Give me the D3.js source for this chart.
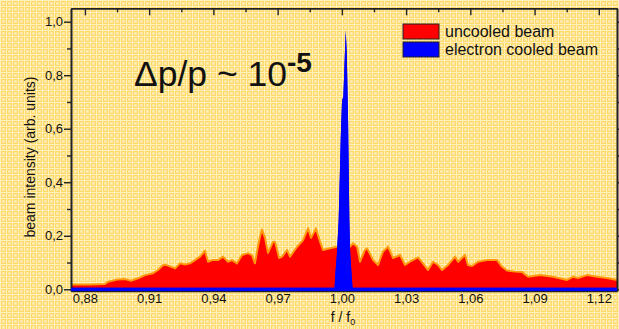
<!DOCTYPE html>
<html>
<head>
<meta charset="utf-8">
<script src="https://cdn.jsdelivr.net/npm/d3@7/dist/d3.min.js"></script>
<style>
  html, body { margin: 0; padding: 0; background: #ffdf80; }
  svg { display: block; font-family: 'Liberation Sans', Arial, sans-serif; }
</style>
</head>
<body>
<div id="chart"></div>
<script>
// frequency ratio f/f0 and intensity of the uncooled beam
const uncooledF = [0.8735, 0.8824, 0.8894, 0.8908, 0.8955, 0.8987, 0.9015, 0.9048, 0.9081, 0.9118,
  0.9141, 0.9165, 0.9179, 0.9221, 0.9244, 0.9267, 0.9291, 0.9314, 0.9338, 0.9361,
  0.9375, 0.9394, 0.9422, 0.9445, 0.9468, 0.9487, 0.9510, 0.9534, 0.9562, 0.9580,
  0.9594, 0.9608, 0.9618, 0.9627, 0.9641, 0.9655, 0.9679, 0.9688, 0.9707, 0.9721,
  0.9744, 0.9758, 0.9791, 0.9819, 0.9842, 0.9856, 0.9879, 0.9898, 0.9912, 0.9945,
  0.9977, 1.0005, 1.0038, 1.0052, 1.0071, 1.0085, 1.0108, 1.0118, 1.0146, 1.0169,
  1.0192, 1.0216, 1.0239, 1.0272, 1.0295, 1.0318, 1.0356, 1.0379, 1.0402, 1.0426,
  1.0449, 1.0468, 1.0496, 1.0529, 1.0543, 1.0575, 1.0589, 1.0608, 1.0636, 1.0678,
  1.0725, 1.0748, 1.0771, 1.0809, 1.0841, 1.0870, 1.0926, 1.0986, 1.1052, 1.1080,
  1.1103, 1.1145, 1.1192, 1.1239, 1.1285];
const uncooledI = [0.018, 0.018, 0.020, 0.028, 0.037, 0.038, 0.032, 0.041, 0.053, 0.060,
  0.072, 0.091, 0.091, 0.078, 0.097, 0.093, 0.097, 0.109, 0.122, 0.144,
  0.103, 0.109, 0.109, 0.122, 0.103, 0.109, 0.097, 0.128, 0.135, 0.128,
  0.097, 0.159, 0.197, 0.223, 0.192, 0.136, 0.178, 0.178, 0.117, 0.122,
  0.147, 0.122, 0.159, 0.184, 0.228, 0.192, 0.227, 0.178, 0.147, 0.153,
  0.159, 0.166, 0.159, 0.172, 0.159, 0.103, 0.147, 0.153, 0.109, 0.091,
  0.141, 0.159, 0.117, 0.128, 0.091, 0.103, 0.119, 0.097, 0.072, 0.103,
  0.091, 0.072, 0.091, 0.122, 0.103, 0.128, 0.091, 0.087, 0.103, 0.109,
  0.109, 0.084, 0.070, 0.066, 0.065, 0.047, 0.053, 0.047, 0.035, 0.047,
  0.042, 0.053, 0.047, 0.042, 0.035];

// electron cooled beam
const cooledF = [0.8735, 0.9966, 0.9969, 0.9977, 0.9985, 0.9995, 1.0001, 1.0007, 1.0018,
  1.0023, 1.0029, 1.0035, 1.0039, 1.0046, 1.0050, 1.1285];
const cooledI = [0.006, 0.006, 0.050, 0.133, 0.257, 0.568, 0.705, 0.720, 0.966,
  0.880, 0.630, 0.257, 0.133, 0.047, 0.006, 0.006];

const xTicks = [0.88, 0.91, 0.94, 0.97, 1.00, 1.03, 1.06, 1.09, 1.12];
const yTicks = [0.0, 0.2, 0.4, 0.6, 0.8, 1.0];
const legendLabels = ['uncooled beam', 'electron cooled beam'];
const seriesColors = ['#ff0000', '#0000ff'];

const W = 619, H = 329;
const svg = d3.select('#chart').append('svg').attr('width', W).attr('height', H);

// checkered yellow paper background
const defs = svg.append('defs');
const pat = defs.append('pattern').attr('id', 'paper')
  .attr('patternUnits', 'userSpaceOnUse').attr('width', 6).attr('height', 6);
pat.append('rect').attr('width', 6).attr('height', 6).attr('fill', '#ffd96a');
pat.append('rect').attr('x', 0).attr('y', 0).attr('width', 6).attr('height', 1).attr('fill', '#fff0bc');
pat.append('rect').attr('x', 0).attr('y', 0).attr('width', 1).attr('height', 6).attr('fill', '#fff0bc');
pat.append('rect').attr('x', 2).attr('y', 2).attr('width', 3).attr('height', 3).attr('fill', '#ffe7a0');
pat.append('rect').attr('x', 3).attr('y', 3).attr('width', 1).attr('height', 1).attr('fill', '#fff6d8');
svg.append('rect').attr('width', W).attr('height', H).attr('fill', 'url(#paper)');

const x = d3.scaleLinear().domain([0.8735, 1.1285]).range([71, 617]);
const y = d3.scaleLinear().domain([-0.0064, 1.05]).range([291, 8.3]);

const uncooled = uncooledF.map((f, i) => ({ f, v: uncooledI[i] }));
const cooled = cooledF.map((f, i) => ({ f, v: cooledI[i] }));

const area = d3.area().x(d => x(d.f)).y0(y(-0.0064)).y1(d => y(d.v));
const line = d3.line().x(d => x(d.f)).y(d => y(d.v));

svg.append('path').datum(uncooled).attr('d', area).attr('fill', seriesColors[0]);
svg.append('path').datum(uncooled).attr('d', line)
  .attr('fill', 'none').attr('stroke', '#ff9a10').attr('stroke-width', 2).attr('stroke-linejoin', 'round');
svg.append('path').datum(cooled).attr('d', area).attr('fill', seriesColors[1]);

// axes
const axisColor = '#222';
const styleAxis = g => {
  g.select('.domain').attr('stroke', axisColor).attr('stroke-width', 1.6);
  g.selectAll('.tick line').attr('stroke', axisColor).attr('stroke-width', 1.4);
  g.selectAll('.tick text').attr('fill', '#111').style('font-size', '13px')
    .style('font-family', "'Liberation Sans', Arial, sans-serif");
};

// left: labelled ticks outward, minor ticks between
svg.append('g').attr('transform', `translate(${x.range()[0]},0)`)
  .call(d3.axisLeft(y).tickValues(d3.range(0.1, 1.01, 0.2)).tickSize(4).tickFormat('').tickSizeOuter(0))
  .call(styleAxis);
svg.append('g').attr('transform', `translate(${x.range()[0]},0)`)
  .call(d3.axisLeft(y).tickValues(yTicks).tickSize(7).tickPadding(1)
    .tickFormat(d => d3.format('.1f')(d).replace('.', ',')).tickSizeOuter(0))
  .call(styleAxis);

// right: inward ticks
svg.append('g').attr('transform', `translate(${x.range()[1]},0)`)
  .call(d3.axisLeft(y).tickValues(d3.range(0.1, 1.01, 0.2)).tickSize(-4).tickFormat('').tickSizeOuter(0))
  .call(styleAxis);
svg.append('g').attr('transform', `translate(${x.range()[1]},0)`)
  .call(d3.axisLeft(y).tickValues(yTicks).tickSize(-7).tickFormat('').tickSizeOuter(0))
  .call(styleAxis);

// top: inward ticks
svg.append('g').attr('transform', `translate(0,${y.range()[1]})`)
  .call(d3.axisTop(x).tickValues(d3.range(0.895, 1.13, 0.03)).tickSize(-4).tickFormat('').tickSizeOuter(0))
  .call(styleAxis);
svg.append('g').attr('transform', `translate(0,${y.range()[1]})`)
  .call(d3.axisTop(x).tickValues(xTicks).tickSize(-7).tickFormat('').tickSizeOuter(0))
  .call(styleAxis);

// bottom: labels
svg.append('g').attr('transform', `translate(0,${y.range()[0]})`)
  .call(d3.axisBottom(x).tickValues(xTicks).tickSize(0).tickPadding(3)
    .tickFormat(d => d3.format('.2f')(d).replace('.', ',')).tickSizeOuter(0))
  .call(styleAxis);

// blue baseline sits over the bottom axis line
svg.append('path').datum(cooled).attr('d', area).attr('fill', seriesColors[1]);

// axis titles
svg.append('text')
  .attr('transform', `translate(35,157) rotate(-90)`)
  .attr('text-anchor', 'middle')
  .style('font-size', '14px').attr('fill', '#111')
  .text('beam intensity (arb. units)');

const xt = svg.append('text').attr('x', 343).attr('y', 322).attr('text-anchor', 'middle')
  .style('font-size', '14px').attr('fill', '#111');
xt.append('tspan').text('f / f');
xt.append('tspan').attr('dy', 3).style('font-size', '9px').text('0');

// legend
const leg = svg.append('g').attr('transform', 'translate(403,24)');
legendLabels.forEach((lab, i) => {
  leg.append('rect').attr('x', 0).attr('y', i * 18).attr('width', 36).attr('height', 15)
    .attr('fill', seriesColors[i]).attr('stroke', '#222').attr('stroke-width', 1);
  leg.append('text').attr('x', 42).attr('y', i * 18 + 13)
    .style('font-size', '16px').attr('fill', '#111').text(lab);
});

// annotation
const ann = svg.append('text').attr('x', 134).attr('y', 86)
  .style('font-size', '35.5px').attr('fill', '#111');
ann.append('tspan').text('\u0394p/p ~ 10');
ann.append('tspan').attr('dy', -14).style('font-size', '28px').style('font-weight', 'bold').text('-5');
</script>
</body>
</html>
